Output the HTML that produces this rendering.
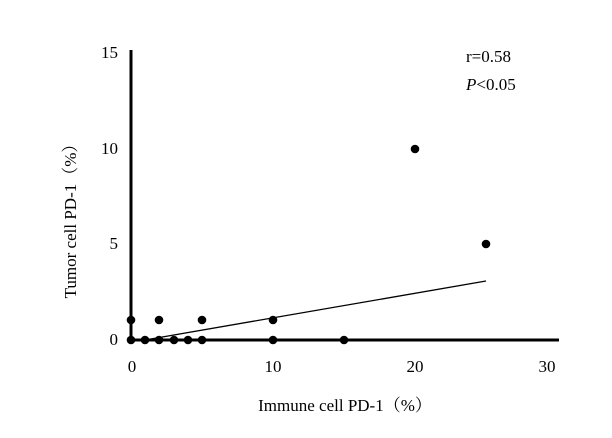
<!DOCTYPE html>
<html><head><style>body{margin:0;background:#fff}</style></head><body>
<svg width="612" height="433" xmlns="http://www.w3.org/2000/svg" font-family="Liberation Serif, 'Noto Serif CJK SC', serif" font-size="17">
<rect width="612" height="433" fill="#fff"/>
<line x1="131" y1="50" x2="131" y2="341.5" stroke="#000" stroke-width="3"/>
<line x1="129.5" y1="340" x2="559" y2="340" stroke="#000" stroke-width="3"/>
<line x1="145" y1="340" x2="486" y2="281" stroke="#000" stroke-width="1.3"/>
<g fill="#000">
<circle cx="131" cy="320" r="4.3"/><circle cx="131" cy="340" r="4.3"/><circle cx="145" cy="340" r="4.3"/>
<circle cx="159" cy="340" r="4.3"/><circle cx="159" cy="320" r="4.3"/><circle cx="174" cy="340" r="4.3"/>
<circle cx="188" cy="340" r="4.3"/><circle cx="202" cy="340" r="4.3"/><circle cx="202" cy="320" r="4.3"/>
<circle cx="273" cy="340" r="4.3"/><circle cx="273" cy="320" r="4.3"/><circle cx="344" cy="340" r="4.3"/>
<circle cx="415" cy="149" r="4.3"/><circle cx="486" cy="244" r="4.3"/>
</g>
<g text-anchor="end">
<text x="118" y="58">15</text><text x="118" y="154">10</text><text x="118" y="249">5</text><text x="118" y="345">0</text>
</g>
<g text-anchor="middle">
<text x="132" y="372">0</text><text x="273" y="372">10</text><text x="415" y="372">20</text><text x="547" y="372">30</text>
<text x="345" y="411">Immune cell PD-1（%）</text>
<text transform="translate(76,217) rotate(-90)">Tumor cell PD-1（%）</text>
</g>
<text x="466" y="62">r=0.58</text>
<text x="466" y="90"><tspan font-style="italic">P</tspan>&lt;0.05</text>
</svg>
</body></html>
